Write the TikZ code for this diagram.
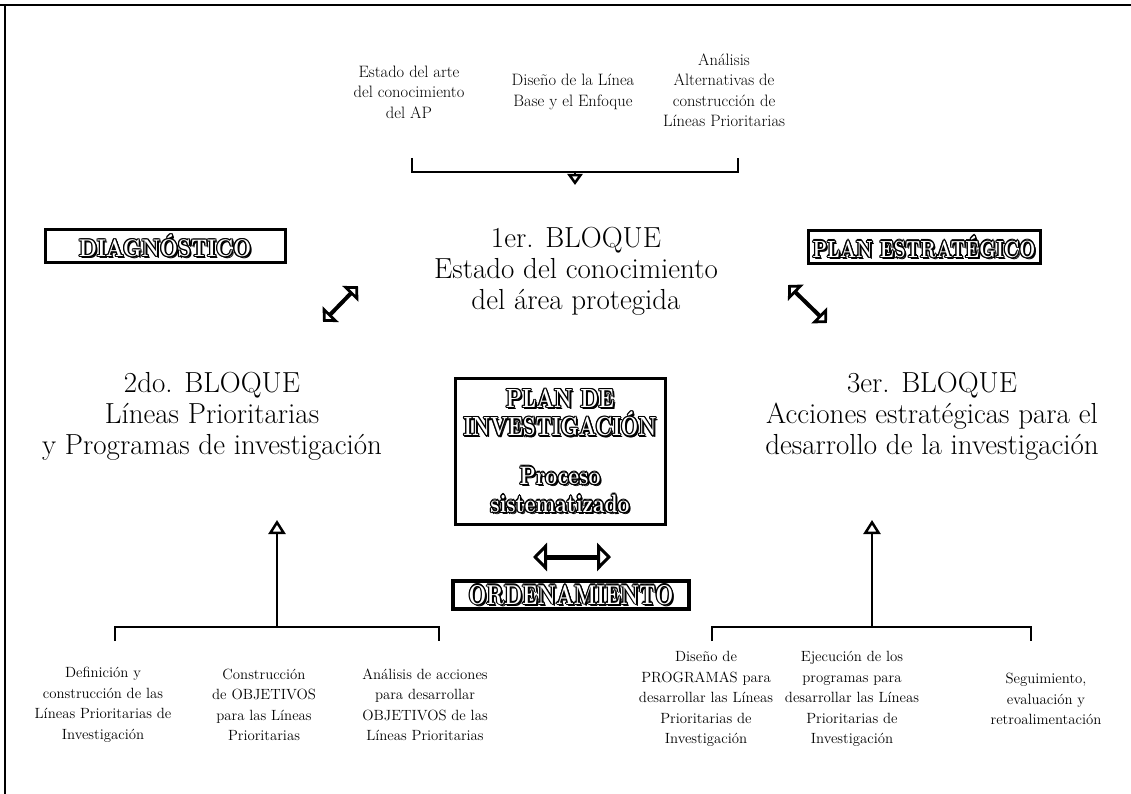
\documentclass[tikz,border=0pt]{standalone}
\usepackage{fontspec}
\usepackage{graphicx}
\usetikzlibrary{arrows.meta}
\newcommand\olt[1]{\begingroup\setbox0\hbox{#1}%
\rlap{\kern2pt\lower2pt\copy0}\rlap{\kern1.4pt\lower1.4pt\copy0}%
\rlap{\kern-1.3pt\copy0}\rlap{\kern1.3pt\copy0}\rlap{\raise1.3pt\copy0}\rlap{\lower1.3pt\copy0}%
\rlap{\kern-.9pt\raise.9pt\copy0}\rlap{\kern.9pt\raise.9pt\copy0}\rlap{\kern-.9pt\lower.9pt\copy0}\rlap{\kern.9pt\lower.9pt\copy0}%
{\color{white}\copy0}\endgroup}
\newcommand\tall[2]{\scalebox{1}[#1]{#2}}
\tikzset{
  txt/.style={align=center, font=\fontsize{14.8}{20.5}\selectfont\addfontfeature{FakeBold=0.7}, inner sep=0pt},
  toptxt/.style={align=center, font=\fontsize{16.5}{20.5}\selectfont\addfontfeature{FakeBold=0.7}, inner sep=0pt},
  big/.style={align=center, font=\fontsize{29}{31}\selectfont\addfontfeature{FakeBold=0.5}, inner sep=0pt},
  otl/.style={align=center, inner sep=0pt},
  lbl/.style={draw, line width=3pt, inner sep=0pt},
  thin/.style={line width=1.3pt},
  frame/.style={line width=1.8pt},
  dbl/.style={line width=4pt, {Triangle[open,length=11pt,width=22pt]}-{Triangle[open,length=11pt,width=22pt]}},
  dblh/.style={line width=5pt, {Triangle[open,length=14pt,width=28pt,line width=3pt]}-{Triangle[open,length=14pt,width=28pt,line width=3pt]}},
  uptri/.style={thin, -{Triangle[open,length=14pt,width=17pt,line width=2.5pt]}}
}
\begin{document}
\begin{tikzpicture}[x=1pt,y=-1pt]
\useasboundingbox (0,0) rectangle (1131,794);
% frame
\draw[frame] (0,5) -- (1131,5);
\draw[frame] (5,5) -- (5,794);
% top texts
\node[toptxt] (t1) at (409,92) {Estado del arte\\del conocimiento\\del AP};
\node[toptxt] (t2) at (573,92) {Diseño de la Línea\\Base y el Enfoque};
\node[toptxt] (t3) at (724,90) {Análisis\\Alternativas de\\construcción de\\Líneas Prioritarias};
% top bracket
\coordinate (tbl) at (412,172);
\coordinate (tbr) at (738,172);
\coordinate (tbm) at (575,171);
\coordinate (tbt) at (575,185);
\draw[thin] (412,158) -- (tbl) -- (tbr) -- (738,158);
\draw[thin, -{Triangle[open,length=11pt,width=15pt,line width=2.5pt]}] (tbm) -- (tbt);
% block 1
\node[big] (b1) at (576,271) {1er. BLOQUE\\Estado del conocimiento\\del área protegida};
% labels
\node[lbl, minimum width=240, minimum height=32] (diag) at (165,246)
  {\fontsize{21}{21}\bfseries\selectfont\olt{\tall{1.15}{DIAGNÓSTICO}}};
\node[lbl, minimum width=232, minimum height=33] (pest) at (924,247)
  {\fontsize{19.5}{19.5}\bfseries\selectfont\olt{\scalebox{0.97}[1.2]{PLAN ESTRATÉGICO}}};
% diagonal arrows
\coordinate (la1) at (323,322);
\coordinate (la2) at (358,286);
\coordinate (ra1) at (788,285);
\coordinate (ra2) at (827,323);
\draw[dbl] (la1) -- (la2);
\draw[dbl] (ra1) -- (ra2);
% blocks 2, 3
\node[big] (b2) at (212,416) {2do. BLOQUE\\Líneas Prioritarias\\y Programas de investigación};
\node[big] (b3) at (932,416) {3er. BLOQUE\\Acciones estratégicas para el\\desarrollo de la investigación};
% central box
\node[lbl, minimum width=210, minimum height=146] (plan) at (560,451) {};
\node[otl, font=\fontsize{21}{26}\bfseries\selectfont] (pl1) at (560,413) {\olt{\tall{1.25}{PLAN DE}}\\\olt{\scalebox{0.98}[1.25]{INVESTIGACIÓN}}};
\node[otl, font=\fontsize{21}{28}\bfseries\selectfont] (pl2) at (560,490) {\olt{\tall{1.2}{Proceso}}\\\olt{\tall{1.2}{sistematizado}}};
% horizontal double arrow
\coordinate (ha1) at (533,557);
\coordinate (ha2) at (611,557);
\draw[dblh] (ha1) -- (ha2);
% ordenamiento
\node[draw, line width=4pt, inner sep=0pt, minimum width=236, minimum height=28] (ord) at (571,595)
  {\fontsize{21}{21}\bfseries\selectfont\olt{\tall{1.3}{ORDENAMIENTO}}};
% left tree
\coordinate (lv) at (277,627);
\coordinate (lt) at (277,520);
\draw[uptri] (lv) -- (lt);
\draw[thin] (115,641) -- (115,627) -- (439,627) -- (439,641);
% right tree
\coordinate (rv) at (872,627);
\coordinate (rt) at (872,520);
\draw[uptri] (rv) -- (rt);
\draw[thin] (712,641) -- (712,627) -- (1031,627) -- (1031,641);
% bottom texts
\node[txt] (l1) at (103,705) {Definición y\\construcción de las\\Líneas Prioritarias de\\Investigación};
\node[txt] (l2) at (264,705) {Construcción\\de OBJETIVOS\\para las Líneas\\Prioritarias};
\node[txt] (l3) at (425,705) {Análisis de acciones\\para desarrollar\\OBJETIVOS de las\\Líneas Prioritarias};
\node[txt] (r1) at (706,699) {Diseño de\\PROGRAMAS para\\desarrollar las Líneas\\Prioritarias de\\Investigación};
\node[txt] (r2) at (852,699) {Ejecución de los\\programas para\\desarrollar las Líneas\\Prioritarias de\\Investigación};
\node[txt] (r3) at (1046,699) {Seguimiento,\\evaluación y\\retroalimentación};
\end{tikzpicture}
\end{document}
